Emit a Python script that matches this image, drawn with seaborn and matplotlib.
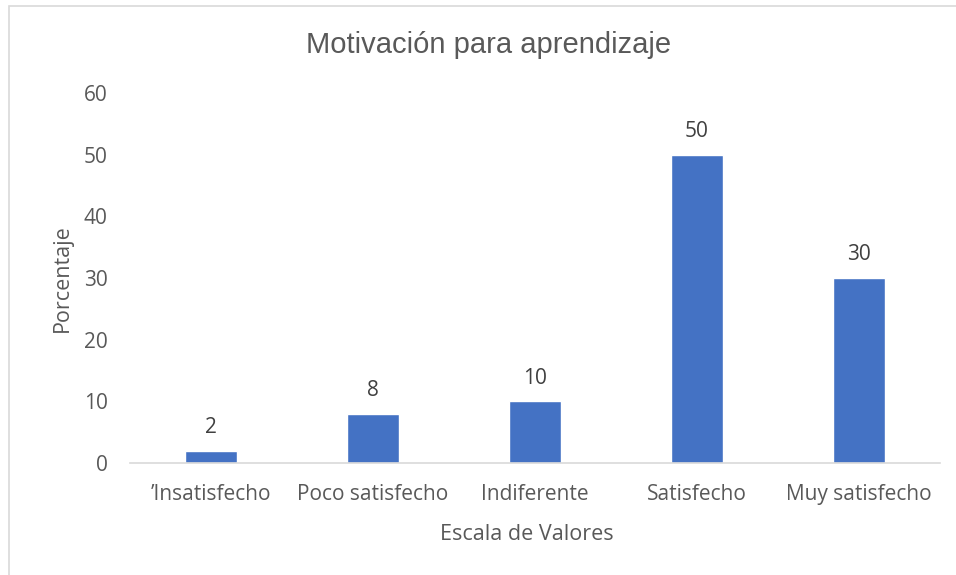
import matplotlib
matplotlib.use("Agg")
import matplotlib.pyplot as plt
import seaborn as sns
import pandas as pd
from matplotlib.patches import Rectangle

# datos del gráfico
categorias = ["\u2019Insatisfecho", "Poco satisfecho", "Indiferente", "Satisfecho", "Muy satisfecho"]
porcentajes = [2, 8, 10, 50, 30]
y_ticks = [0, 10, 20, 30, 40, 50, 60]

sns.set_style("white")
plt.rcParams['font.family'] = ['Open Sans', 'DejaVu Sans']

gris = "#595959"
df = pd.DataFrame({"categoria": categorias, "porcentaje": porcentajes})

fig = plt.figure(figsize=(9.56, 5.75), dpi=100)
ax = fig.add_axes([130 / 956, 112 / 575, 810 / 956, 370 / 575])

sns.barplot(data=df, x="categoria", y="porcentaje", color="#4472C4",
            width=0.315, saturation=1, ax=ax)

# etiquetas de datos
ax.bar_label(ax.containers[0], padding=9, fontsize=15, color="#404040")

ax.set_ylim(0, 60)
ax.set_xlim(-0.5, len(categorias) - 0.5)
ax.set_yticks(y_ticks)
ax.tick_params(axis='both', length=0, labelsize=15, labelcolor=gris)
ax.tick_params(axis='x', pad=15)
ax.tick_params(axis='y', pad=16)

for s in ['top', 'right', 'left']:
    ax.spines[s].set_visible(False)
ax.spines['bottom'].set_color("#D9D9D9")
ax.spines['bottom'].set_linewidth(1.2)

ax.set_xlabel("")
ax.set_ylabel("")
fig.text(527 / 956, 1 - 535 / 575, "Escala de Valores", fontsize=15.5, color=gris,
         ha='center', va='center')
fig.text(62 / 956, 1 - 278 / 575, "Porcentaje", fontsize=15.5, color=gris,
         ha='center', va='center', rotation=90)

# título
fig.text(489 / 956, 1 - 45 / 575, "Motivación para aprendizaje", fontsize=21,
         color=gris, ha='center', va='center', family=['Liberation Sans', 'DejaVu Sans'])

# borde del gráfico
fig.patches.append(Rectangle((9 / 956, -0.1), 1.2, 1.1 - 6 / 575, transform=fig.transFigure,
                             fill=False, edgecolor="#D9D9D9", linewidth=1.2))

fig.savefig("out.png", dpi=100)
